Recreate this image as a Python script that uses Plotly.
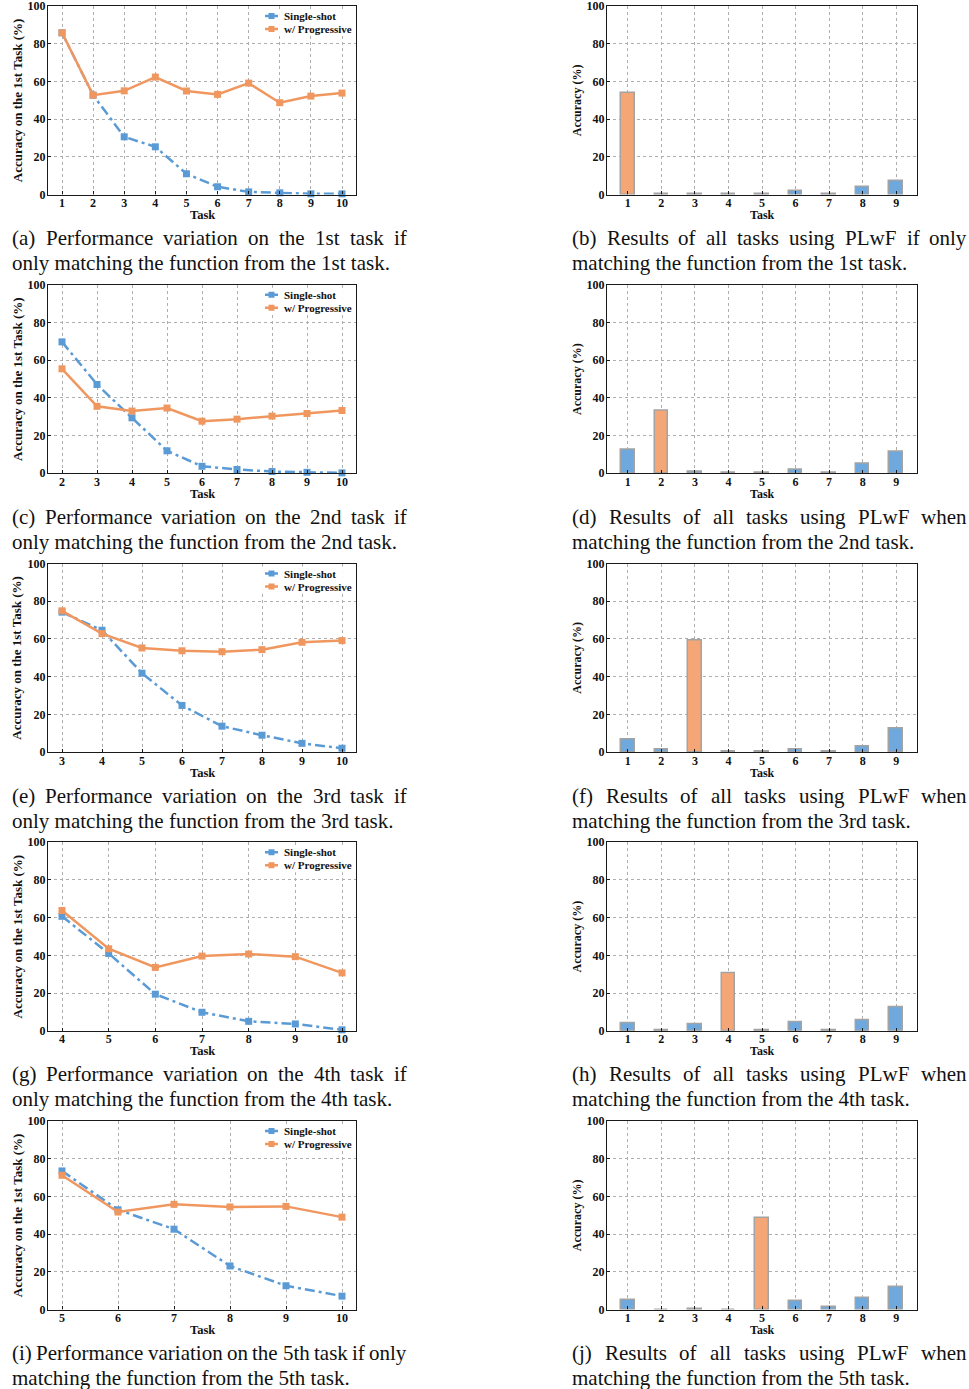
import plotly.graph_objects as go

W, H = 969, 1389

# ---- line panels: accuracy on the matched task as later tasks arrive ----
line_tasks = [
    [1, 2, 3, 4, 5, 6, 7, 8, 9, 10],
    [2, 3, 4, 5, 6, 7, 8, 9, 10],
    [3, 4, 5, 6, 7, 8, 9, 10],
    [4, 5, 6, 7, 8, 9, 10],
    [5, 6, 7, 8, 9, 10],
]
single_shot = [
    [85.8, 52.7, 30.6, 25.3, 11.0, 4.1, 1.4, 0.9, 0.35, 0.35],
    [69.7, 47.1, 29.4, 11.9, 3.7, 2.0, 0.9, 0.5, 0.2],
    [74.2, 64.6, 41.8, 24.7, 13.7, 8.9, 4.6, 2.0],
    [60.7, 41.0, 19.4, 9.8, 5.0, 3.6, 0.5],
    [73.5, 52.9, 42.6, 23.1, 12.6, 7.1],
]
progressive = [
    [85.8, 52.7, 55.0, 62.3, 54.9, 53.1, 59.1, 48.7, 52.2, 53.8],
    [55.4, 35.5, 33.0, 34.6, 27.6, 28.7, 30.3, 31.7, 33.3],
    [74.9, 62.8, 55.2, 53.7, 53.2, 54.3, 58.2, 59.1],
    [63.8, 43.5, 33.6, 39.6, 40.7, 39.3, 30.7],
    [71.2, 51.7, 55.8, 54.4, 54.7, 49.0],
]
series_names = ["Single-shot", "w/ Progressive"]

# ---- bar panels: PLwF results on every task ----
bar_tasks = [1, 2, 3, 4, 5, 6, 7, 8, 9]
bar_values = [
    [53.8, 0.5, 0.2, 0.1, 0.1, 1.9, 0.3, 4.1, 7.0],
    [12.3, 33.0, 0.6, 0.2, 0.1, 1.7, 0.1, 5.3, 11.2],
    [6.6, 1.2, 59.0, 0.1, 0.3, 1.4, 0.3, 3.0, 12.6],
    [3.9, 0.3, 3.5, 30.7, 0.3, 4.3, 0.4, 5.7, 12.4],
    [5.3, 0.0, 0.3, 0.0, 48.8, 4.4, 1.2, 5.9, 11.7],
]
matched_task = [1, 2, 3, 4, 5]

y_ticks = [0, 20, 40, 60, 80, 100]

captions_left = [
    ["(a) Performance variation on the 1st task if", "only matching the function from the 1st task."],
    ["(c) Performance variation on the 2nd task if", "only matching the function from the 2nd task."],
    ["(e) Performance variation on the 3rd task if", "only matching the function from the 3rd task."],
    ["(g) Performance variation on the 4th task if", "only matching the function from the 4th task."],
    ["(i) Performance variation on the 5th task if only", "matching the function from the 5th task."],
]
captions_right = [
    ["(b) Results of all tasks using PLwF if only", "matching the function from the 1st task."],
    ["(d) Results of all tasks using PLwF when", "matching the function from the 2nd task."],
    ["(f) Results of all tasks using PLwF when", "matching the function from the 3rd task."],
    ["(h) Results of all tasks using PLwF when", "matching the function from the 4th task."],
    ["(j) Results of all tasks using PLwF when", "matching the function from the 5th task."],
]

# ---- styling ----
SERIF = "Liberation Serif, Times New Roman, serif"
BLUE_LINE = "#5B9BD5"
ORANGE_LINE = "#F0975F"
BLUE_BAR = "#6FA8DC"
ORANGE_BAR = "#F4A677"
EDGE = "#A3A3A3"
GRID = "#AEAEAE"
DASHDOT = "10px,4px,3px,4px"

ROW_TOP0 = 6.0
ROW_PITCH = 278.75
PLOT_H = 188.5
LEFT_X = (48, 356)
RIGHT_X = (607, 917)
CAP_LEFT = (12, 407)
CAP_RIGHT = (572, 967)
CAP_FONT = 21


def px_x(v):
    return v / W


def px_y(v):
    return 1 - v / H


# Times Roman advance widths (per 1000 em) used to justify caption lines
TIMES_W = {
    " ": 250, "(": 333, ")": 333, ".": 250, "a": 444, "b": 500, "c": 444, "d": 500,
    "e": 444, "f": 333, "g": 500, "h": 500, "i": 278, "j": 278, "k": 500, "l": 278,
    "m": 778, "n": 500, "o": 500, "p": 500, "q": 500, "r": 333, "s": 389, "t": 278,
    "u": 500, "v": 500, "w": 722, "x": 500, "y": 500, "z": 444, "P": 556, "L": 611,
    "F": 556, "W": 944, "R": 667,
}


def text_w(s, size):
    return sum(TIMES_W.get(ch, 500) for ch in s) * size / 1000.0


fig = go.Figure()
annotations = []
shapes = []
layout_axes = {}


def axis_common():
    return dict(
        showline=True, mirror=True, linecolor="#1a1a1a", linewidth=1.3,
        showgrid=True, gridcolor=GRID, griddash="dot", gridwidth=1,
        zeroline=False, automargin=False, ticklabeloverflow="allow",
        tickfont=dict(family=SERIF, size=12, color="#111", weight="bold"),
        tickcolor="#1a1a1a", fixedrange=True,
    )


def add_caption(lines, x0, x1, yc):
    # first line justified across the column, second line flush left
    words = lines[0].split(" ")
    widths = [text_w(wd, CAP_FONT) for wd in words]
    gap = (x1 - x0 - sum(widths)) / (len(words) - 1)
    pos = x0
    for wd, ww in zip(words, widths):
        annotations.append(dict(
            text=wd, x=px_x(pos + ww / 2), y=px_y(yc), xref="paper", yref="paper",
            xanchor="center", yanchor="middle", showarrow=False,
            font=dict(family=SERIF, size=CAP_FONT, color="#111"),
        ))
        pos += ww + gap
    annotations.append(dict(
        text=lines[1], x=px_x(x0 - 2), y=px_y(yc + 25), xref="paper", yref="paper",
        xanchor="left", yanchor="middle", showarrow=False,
        font=dict(family=SERIF, size=CAP_FONT, color="#111"),
    ))


def add_legend(top):
    # compact key in the upper-right corner of a line panel
    x0, x1 = 262, 353
    shapes.append(dict(
        type="rect", xref="paper", yref="paper", layer="above",
        x0=px_x(x0), x1=px_x(x1), y0=px_y(top + 30), y1=px_y(top + 3),
        fillcolor="rgba(255,255,255,0.92)", line=dict(width=0),
    ))
    for k, (name, col) in enumerate(zip(series_names, [BLUE_LINE, ORANGE_LINE])):
        yc = top + 10 + 13 * k
        shapes.append(dict(
            type="line", xref="paper", yref="paper", layer="above",
            x0=px_x(265), x1=px_x(278), y0=px_y(yc), y1=px_y(yc),
            line=dict(color=col, width=2.5),
        ))
        shapes.append(dict(
            type="rect", xref="paper", yref="paper", layer="above",
            x0=px_x(268.5), x1=px_x(274.5), y0=px_y(yc + 3), y1=px_y(yc - 3),
            fillcolor=col, line=dict(width=0),
        ))
        annotations.append(dict(
            text=f"<b>{name}</b>", x=px_x(282), y=px_y(yc), xref="paper", yref="paper",
            xanchor="left", yanchor="middle", showarrow=False,
            font=dict(family=SERIF, size=11, color="#111"),
        ))


for r in range(5):
    top = ROW_TOP0 + r * ROW_PITCH
    bot = top + PLOT_H
    ydom = [px_y(bot), px_y(top)]

    # ---------- left: line panel ----------
    ia = 2 * r + 1
    xs = line_tasks[r]
    span = xs[-1] - xs[0]
    xname = "x" if ia == 1 else f"x{ia}"
    yname = "y" if ia == 1 else f"y{ia}"
    fig.add_trace(go.Scatter(
        x=xs, y=single_shot[r], mode="lines+markers", name=series_names[0],
        line=dict(color=BLUE_LINE, width=2.5, dash=DASHDOT),
        marker=dict(symbol="square", size=7, color=BLUE_LINE),
        xaxis=xname, yaxis=yname, showlegend=False, cliponaxis=False,
    ))
    fig.add_trace(go.Scatter(
        x=xs, y=progressive[r], mode="lines+markers", name=series_names[1],
        line=dict(color=ORANGE_LINE, width=2.5),
        marker=dict(symbol="square", size=7, color=ORANGE_LINE),
        xaxis=xname, yaxis=yname, showlegend=False, cliponaxis=False,
    ))
    xa = axis_common()
    xa.update(domain=[px_x(LEFT_X[0]), px_x(LEFT_X[1])],
              range=[xs[0] - 0.05 * span, xs[-1] + 0.05 * span],
              tickvals=xs, ticks="inside", ticklen=3, ticklabelstandoff=-3, anchor=yname)
    ya = axis_common()
    ya.update(domain=ydom, range=[0, 100], tickvals=y_ticks,
              ticks="inside", ticklen=3, ticklabelstandoff=-1, anchor=xname)
    layout_axes["xaxis" if ia == 1 else f"xaxis{ia}"] = xa
    layout_axes["yaxis" if ia == 1 else f"yaxis{ia}"] = ya

    add_legend(top)

    annotations.append(dict(
        text="<b>Task</b>", x=px_x(sum(LEFT_X) / 2), y=px_y(bot + 20.5),
        xref="paper", yref="paper", showarrow=False, xanchor="center", yanchor="middle",
        font=dict(family=SERIF, size=12.5, color="#111"),
    ))
    annotations.append(dict(
        text="<b>Accuracy on the 1st Task (%)</b>", x=px_x(17), y=px_y((top + bot) / 2),
        xref="paper", yref="paper", showarrow=False, textangle=-90,
        xanchor="center", yanchor="middle",
        font=dict(family=SERIF, size=13, color="#111"),
    ))

    # ---------- right: bar panel ----------
    ib = 2 * r + 2
    xname = f"x{ib}"
    yname = f"y{ib}"
    colors = [ORANGE_BAR if t == matched_task[r] else BLUE_BAR for t in bar_tasks]
    fig.add_trace(go.Bar(
        x=bar_tasks, y=bar_values[r], width=0.4, showlegend=False,
        marker=dict(color=colors, line=dict(color=EDGE, width=1.5)),
        xaxis=xname, yaxis=yname,
    ))
    bspan = (bar_tasks[-1] + 0.2) - (bar_tasks[0] - 0.2)
    xb = axis_common()
    xb.update(domain=[px_x(RIGHT_X[0]), px_x(RIGHT_X[1])],
              range=[bar_tasks[0] - 0.2 - 0.05 * bspan, bar_tasks[-1] + 0.2 + 0.05 * bspan],
              tickvals=bar_tasks, ticks="inside", ticklen=3, ticklabelstandoff=-3, anchor=yname)
    yb = axis_common()
    yb.update(domain=ydom, range=[0, 100], tickvals=y_ticks,
              ticks="inside", ticklen=3, ticklabelstandoff=-1, anchor=xname)
    layout_axes[f"xaxis{ib}"] = xb
    layout_axes[f"yaxis{ib}"] = yb

    annotations.append(dict(
        text="<b>Task</b>", x=px_x(sum(RIGHT_X) / 2), y=px_y(bot + 20.5),
        xref="paper", yref="paper", showarrow=False, xanchor="center", yanchor="middle",
        font=dict(family=SERIF, size=12, color="#111"),
    ))
    annotations.append(dict(
        text="<b>Accuracy (%)</b>", x=px_x(577), y=px_y((top + bot) / 2),
        xref="paper", yref="paper", showarrow=False, textangle=-90,
        xanchor="center", yanchor="middle",
        font=dict(family=SERIF, size=12, color="#111"),
    ))

    cap_y = 238 + r * ROW_PITCH
    add_caption(captions_left[r], CAP_LEFT[0], CAP_LEFT[1], cap_y)
    add_caption(captions_right[r], CAP_RIGHT[0], CAP_RIGHT[1], cap_y)

fig.update_layout(
    width=W, height=H, margin=dict(l=0, r=0, t=0, b=0, autoexpand=False),
    paper_bgcolor="white", plot_bgcolor="white",
    annotations=annotations, shapes=shapes, bargap=0, **layout_axes,
)

fig.write_html("out.html")
